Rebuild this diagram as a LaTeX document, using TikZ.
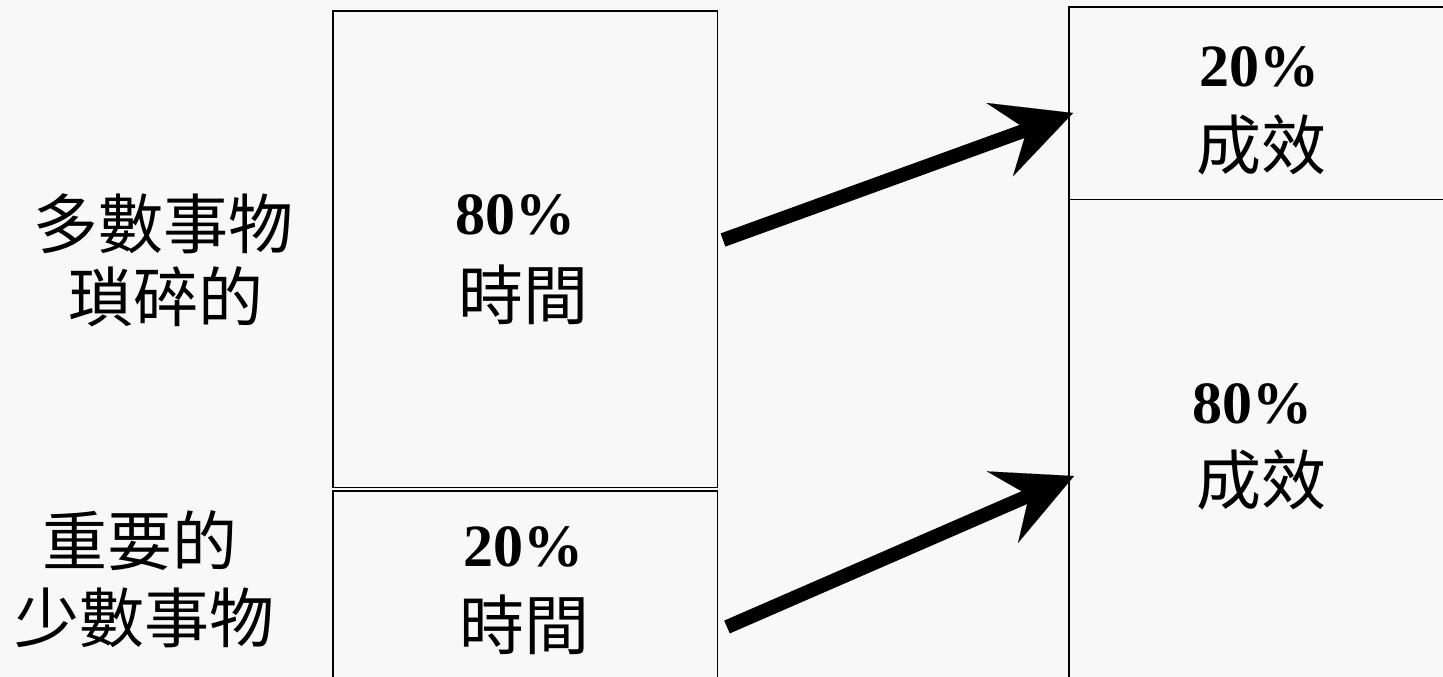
\documentclass[tikz,border=0pt]{standalone}
\usepackage{fontspec}
\setmainfont{Liberation Serif}
\newfontfamily\cjk{Noto Sans CJK TC}
\usetikzlibrary{arrows.meta}
\definecolor{bg}{HTML}{F8F8F8}
\begin{document}
\begin{tikzpicture}[x=1pt,y=-1pt,
  box/.style={draw=black, line width=1.6pt, inner sep=0pt, anchor=north west},
  num/.style={font=\fontsize{60}{60}\selectfont\bfseries, inner sep=0pt, text=black},
  han/.style={font=\fontsize{65}{65}\selectfont\cjk, inner sep=0pt, text=black},
  bigarrow/.style={line width=14pt, -{Stealth[length=78pt,width=78pt,inset=29pt,line width=0.1pt]}}]
\fill[bg] (0,0) rectangle (1443,677);
\useasboundingbox (0,0) rectangle (1443,677);
\clip (0,0) rectangle (1443,677);
% boxes
\node[box, minimum width=384.5pt, minimum height=476pt] (tbox) at (332,10.5) {};
\node[box, minimum width=384.5pt, minimum height=250pt] (bbox) at (332,490) {};
\node[box, minimum width=450pt, minimum height=192pt] (rtop) at (1068,6.5) {};
\node[box, minimum width=450pt, minimum height=600pt] (rbot) at (1068,198.5) {};
% left labels
\node[han] (l1a) at (163,224) {多數事物};
\node[han] (l1b) at (166,297) {瑣碎的};
\node[han] (l2a) at (140,541) {重要的};
\node[han] (l2b) at (144,618) {少數事物};
% time boxes
\node[num] (p80t) at (515,215) {80\%};
\node[han] (t1) at (523,295) {時間};
\node[num] (p20t) at (523,547) {20\%};
\node[han] (t2) at (524,625) {時間};
% results
\node[num] (p20r) at (1259,67) {20\%};
\node[han] (e1) at (1261,145) {成效};
\node[num] (p80r) at (1252,404) {80\%};
\node[han] (e2) at (1261,480) {成效};
% arrows
\coordinate (a1s) at (723,240);
\coordinate (a1e) at (1073,113);
\coordinate (a2s) at (727,627);
\coordinate (a2e) at (1074,476);
\draw[bigarrow] (a1s) -- (a1e);
\draw[bigarrow] (a2s) -- (a2e);
\end{tikzpicture}
\end{document}
